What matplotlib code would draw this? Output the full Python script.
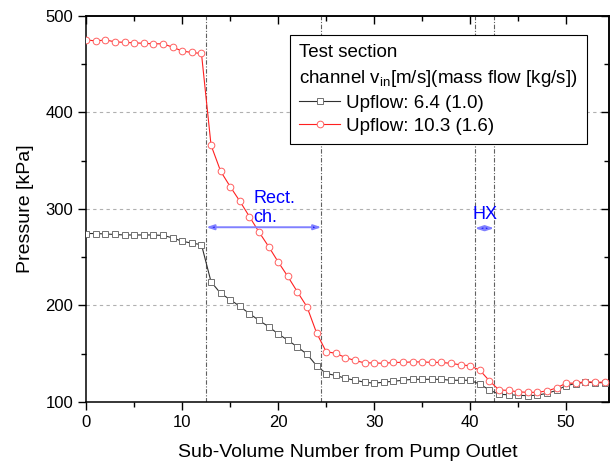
import matplotlib
matplotlib.use("Agg")
import matplotlib.pyplot as plt
from matplotlib.ticker import MultipleLocator

plt.rcParams['font.family'] = ['Liberation Sans', 'DejaVu Sans']
plt.rcParams['mathtext.fontset'] = 'custom'
plt.rcParams['mathtext.rm'] = 'Liberation Sans'
plt.rcParams['mathtext.it'] = 'Liberation Sans'

# Sub-volume numbers (0..54)
sub_volumes = list(range(0, 55))

# Upflow 6.4 m/s (1.0 kg/s)
p_upflow_64 = [274.5, 274.5, 274, 273.5, 273, 273, 273, 273, 272.5, 270,
               266.5, 264.5, 263, 224.5, 212.5, 206, 199, 191.5, 184.5, 178,
               170.5, 164, 157, 149.5, 137.5, 129.5, 127.5, 124.5, 122.5, 120.5,
               119.5, 120.5, 121.5, 122.5, 123.5, 123.5, 123.5, 123.5, 122.5, 122.5,
               122.5, 118.5, 112.5, 108, 107.5, 107, 106.5, 107, 109, 112,
               117, 119, 120.5, 120, 120]

# Upflow 10.3 m/s (1.6 kg/s)
p_upflow_103 = [475, 474, 475, 473, 472.5, 472, 471.5, 471, 471, 467.5,
                463.5, 462, 461, 366, 339, 323, 308, 292, 276, 261,
                245, 230, 214, 198.5, 171.5, 152, 150.5, 146, 143, 140.5,
                140.5, 140, 141, 141, 141.5, 141.5, 141, 141, 140, 138.5,
                137.5, 133, 122, 112.5, 112, 110.5, 110, 110, 111.5, 114.5,
                119.5, 119.5, 121, 120.5, 120.5]

labels = ["Upflow: 6.4 (1.0)", "Upflow: 10.3 (1.6)"]

# Limites de secciones (canal rectangular y HX)
section_lines = [12.5, 24.5, 40.5, 42.5]
rect_span = (12.5, 24.5)
hx_span = (40.5, 42.5)

fig = plt.figure(figsize=(6.12, 4.65), dpi=100)
ax = fig.add_axes([0.141, 0.1355, 0.8546, 0.8305])

# Grid horizontal
for yv in [200, 300, 400]:
    ax.axhline(yv, color='#b0b0b0', linestyle=(0, (3, 3)), linewidth=0.8, zorder=0)

for xv in section_lines:
    ax.axvline(xv, color='#606060', linestyle=(0, (4, 1.5, 1, 1.5)), linewidth=0.8, zorder=1)

ax.plot(sub_volumes, p_upflow_64, color='#303030', linewidth=0.8, marker='s',
        markersize=4, markerfacecolor='white', markeredgecolor='#707070',
        markeredgewidth=0.7, label=labels[0], zorder=3)
ax.plot(sub_volumes, p_upflow_103, color='#ff2020', linewidth=0.8, marker='o',
        markersize=4.8, markerfacecolor='white', markeredgecolor='#ff6060',
        markeredgewidth=0.7, label=labels[1], zorder=4)

# Flechas de secciones
arrow_kw = dict(arrowstyle='<|-|>,head_length=0.45,head_width=0.15',
                edgecolor='#8080ff', facecolor='blue', lw=1.4, shrinkA=0, shrinkB=0)
ax.annotate('', xy=(rect_span[0], 281), xytext=(rect_span[1], 281), arrowprops=arrow_kw, zorder=5)
ax.annotate('', xy=(hx_span[0], 280), xytext=(hx_span[1], 280), arrowprops=arrow_kw, zorder=5)
ax.text(17.4, 301, "Rect.\nch.", color='blue', fontsize=13, ha='left', va='center',
        linespacing=1.15, zorder=6)
ax.text(41.5, 294, "HX", color='blue', fontsize=13, ha='center', va='center', zorder=6)

ax.set_xlim(0, 54.5)
ax.set_ylim(100, 500)
ax.xaxis.set_major_locator(MultipleLocator(10))
ax.xaxis.set_minor_locator(MultipleLocator(5))
ax.yaxis.set_major_locator(MultipleLocator(100))
ax.yaxis.set_minor_locator(MultipleLocator(50))

ax.tick_params(which='both', direction='out', top=False, right=False, labelsize=12, width=1.0)
ax.tick_params(which='major', length=6)
ax.tick_params(which='minor', length=3.5)
for sp in ax.spines.values():
    sp.set_linewidth(1.1)

# Ticks hacia dentro en eje superior y derecho
secx = ax.secondary_xaxis('top')
secx.xaxis.set_major_locator(MultipleLocator(10))
secx.xaxis.set_minor_locator(MultipleLocator(5))
secx.tick_params(which='both', direction='in', labeltop=False, width=1.0)
secx.tick_params(which='major', length=6)
secx.tick_params(which='minor', length=3.5)
secx.spines['top'].set_linewidth(1.1)
secy = ax.secondary_yaxis('right')
secy.yaxis.set_major_locator(MultipleLocator(100))
secy.yaxis.set_minor_locator(MultipleLocator(50))
secy.tick_params(which='both', direction='in', labelright=False, width=1.0)
secy.tick_params(which='major', length=6)
secy.tick_params(which='minor', length=3.5)
secy.spines['right'].set_linewidth(1.1)

ax.set_xlabel("Sub-Volume Number from Pump Outlet", fontsize=14, labelpad=10)
ax.set_ylabel("Pressure [kPa]", fontsize=14, labelpad=8)

leg = ax.legend(loc='upper right', bbox_to_anchor=(0.957, 0.950), fontsize=13.5,
                title="Test section\nchannel v$_{\\mathrm{in}}$[m/s](mass flow [kg/s])",
                title_fontsize=13.5, alignment='left', fancybox=False, edgecolor='black',
                framealpha=1, handlelength=2.2, borderaxespad=0, borderpad=0.5,
                labelspacing=0.3, handletextpad=0.3)
leg.get_title().set_linespacing(1.45)
leg.get_frame().set_linewidth(0.8)

fig.savefig("out.png", dpi=100)
